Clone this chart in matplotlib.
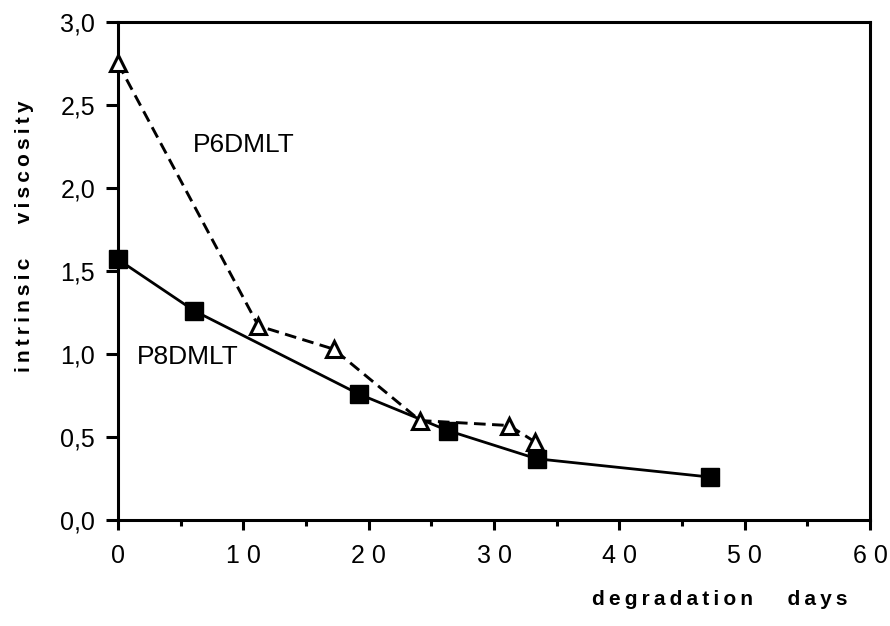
import matplotlib
matplotlib.use("Agg")
import matplotlib.pyplot as plt
from matplotlib.ticker import MultipleLocator, FuncFormatter

plt.rcParams['font.family'] = ['Liberation Sans', 'DejaVu Sans']

# P6DMLT: open triangles, dashed line
p6_days = [0, 11.2, 17.2, 24.1, 31.2, 33.3]
p6_visc = [2.75, 1.17, 1.03, 0.60, 0.57, 0.47]

# P8DMLT: filled squares, solid line
p8_days = [0, 6.1, 19.2, 26.3, 33.4, 47.2]
p8_visc = [1.57, 1.26, 0.76, 0.54, 0.37, 0.26]

TS = '\u2009'  # thin space, used to mimic the wide letter spacing


def spaced(s, gap=TS):
    return gap.join(s)


fig = plt.figure(figsize=(8.9, 6.26), dpi=100)
ax = fig.add_axes([0.1326, 0.169, 0.845, 0.796])

ax.plot(p8_days, p8_visc, color='black', lw=2.0, ls='-',
        marker='s', ms=13, mfc='black', mec='black', zorder=3, clip_on=False)
ax.plot(p6_days, p6_visc, color='black', lw=2.1, ls=(0, (4, 2.2)),
        marker='^', ms=11, mfc='white', mec='black', mew=2.2, zorder=4,
        clip_on=False)

ax.text(6.0, 2.26, 'P6DMLT', fontsize=19, va='center', ha='left')
ax.text(1.5, 0.98, 'P8DMLT', fontsize=19, va='center', ha='left')

ax.set_xlim(0, 60)
ax.set_ylim(0, 3.0)
ax.xaxis.set_major_locator(MultipleLocator(10))
ax.xaxis.set_minor_locator(MultipleLocator(5))
ax.yaxis.set_major_locator(MultipleLocator(0.5))
ax.yaxis.set_major_formatter(FuncFormatter(lambda v, p: f"{v:.1f}".replace('.', ',')))
ax.xaxis.set_major_formatter(FuncFormatter(lambda v, p: ' '.join(f"{int(v)}")))

for s in ax.spines.values():
    s.set_linewidth(2.2)

ax.tick_params(axis='both', which='major', direction='out', width=2.2,
               labelsize=18)
ax.tick_params(axis='x', which='major', length=7, pad=10)
ax.tick_params(axis='x', which='minor', direction='out', length=4.3, width=2.2)
ax.tick_params(axis='y', which='major', length=8.5, pad=8)

fig.text(0.028, 0.623, spaced('intrinsic') + '      ' + spaced('viscosity'),
         rotation=90, fontsize=15, fontweight='bold', ha='center', va='center')
fig.text(0.809, 0.042, spaced('degradation') + '      ' + spaced('days'),
         fontsize=15, fontweight='bold', ha='center', va='center')

fig.savefig('out.png', dpi=100)
